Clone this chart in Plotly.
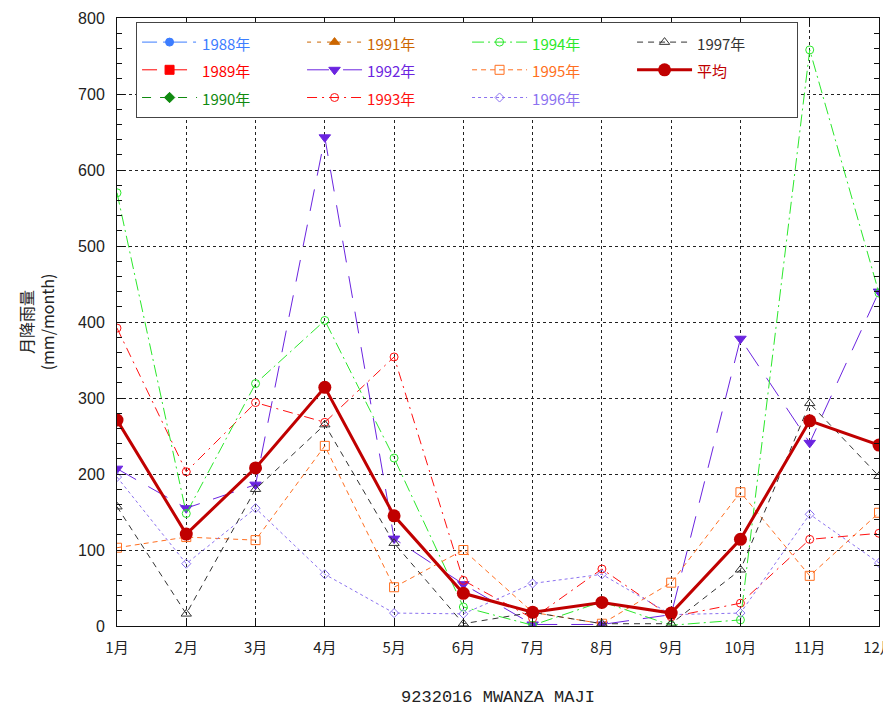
import plotly.graph_objects as go

months = ["1月", "2月", "3月", "4月", "5月", "6月", "7月", "8月", "9月", "10月", "11月", "12月"]

r1988 = [None] * 12
r1989 = [None] * 12
r1990 = [None] * 12
r1991 = [None] * 12
r1992 = [207, 155, 186, 643, 115, 55, 2, 2, 15, 378, 241, 440]
r1993 = [392, 203, 294, 268, 354, 60, 10, 75, 12, 30, 114, 122]
r1994 = [570, 148, 319, 402, 221, 25, 1, 32, 1, 8, 758, 438]
r1995 = [103, 117, 113, 237, 51, 100, 18, 3, 57, 176, 66, 149]
r1996 = [196, 82, 155, 68, 17, 16, 56, 68, 15, 17, 147, 83]
r1997 = [157, 16, 180, 265, 109, 3, 18, 3, 3, 74, 293, 197]
avg = [271, 121, 208, 314, 145, 43, 18, 31, 17, 114, 270, 238]

yticks = [0, 100, 200, 300, 400, 500, 600, 700, 800]

series = [
    ("1988年", r1988, "#3C7DFF", "longdashdot", "circle", 8),
    ("1989年", r1989, "#FF0000", "longdash", "square", 9),
    ("1990年", r1990, "#108A10", "dash", "diamond", 8),
    ("1991年", r1991, "#CC6600", "4px,6px", "triangle-up", 9),
    ("1992年", r1992, "#6B24E0", "22px,14px", "triangle-down", 10),
    ("1993年", r1993, "#FF1010", "10px,5px,2px,5px", "circle-open", 8),
    ("1994年", r1994, "#2BE82B", "12px,4px,2px,4px", "circle-open", 8),
    ("1995年", r1995, "#FF6F20", "5px,4px", "square-open", 9),
    ("1996年", r1996, "#8C72F0", "3px,3px", "diamond-open", 7),
    ("1997年", r1997, "#333333", "6px,5px", "triangle-up-open", 9),
]
rank_order = ["1988年", "1991年", "1994年", "1997年",
              "1989年", "1992年", "1995年", "平均",
              "1990年", "1993年", "1996年"]


def label(text, col):
    return f'<span style="color:{col};font-size:15px">{text}</span>'


fig = go.Figure()
for name, vals, col, dash, sym, ms in series:
    fig.add_trace(go.Scatter(
        x=months, y=vals, mode="lines+markers",
        name=label(name, col),
        line=dict(color=col, width=1, dash=dash),
        marker=dict(symbol=sym, size=ms, color=col, line=dict(color=col, width=1)),
        legendrank=rank_order.index(name) + 1,
        connectgaps=False,
    ))

fig.add_trace(go.Scatter(
    x=months, y=avg, mode="lines+markers",
    name=label("平均", "#C00000"),
    line=dict(color="#C00000", width=3),
    marker=dict(symbol="circle", size=13, color="#C00000"),
    legendrank=rank_order.index("平均") + 1,
))

axis_font = dict(family="Liberation Sans, Noto Sans CJK JP", size=16, color="#222")

# the page places the figure at an 8px offset, so the figure is sized to fit the window
fig.update_layout(
    width=883, height=704,
    margin=dict(l=109, r=12, t=10, b=86),
    plot_bgcolor="white", paper_bgcolor="white",
    font=dict(family="Noto Sans CJK JP", size=15, color="#222"),
    showlegend=True,
    legend=dict(
        orientation="h", x=0.025, y=0.993, xanchor="left", yanchor="top",
        bgcolor="white", bordercolor="#444", borderwidth=1,
        entrywidth=95, entrywidthmode="pixels", itemwidth=55,
        font=dict(family="Noto Sans CJK JP", size=19),
        traceorder="normal",
    ),
    xaxis=dict(
        type="category", range=[0, 11], automargin=False,
        showline=True, linecolor="#111", linewidth=1, mirror="ticks",
        ticks="inside", ticklen=8, tickcolor="#111",
        showgrid=True, gridcolor="#222", griddash="3px,3px", gridwidth=1,
        tickfont=dict(family="Noto Sans CJK JP", size=15, color="#222"),
        ticklabelstandoff=8,
        title=dict(text="9232016 MWANZA MAJI",
                   font=dict(family="Liberation Mono", size=17, color="#222"),
                   standoff=34),
        zeroline=False,
    ),
    yaxis=dict(
        range=[0, 800], tickvals=yticks, automargin=False,
        showline=True, linecolor="#111", linewidth=1, mirror="ticks",
        ticks="inside", ticklen=8, tickcolor="#111",
        minor=dict(dtick=20, ticks="inside", ticklen=5, tickcolor="#111", showgrid=False),
        showgrid=True, gridcolor="#222", griddash="3px,3px", gridwidth=1,
        tickfont=axis_font, ticklabelstandoff=8,
        title=dict(text="月降雨量<br>(mm/month)",
                   font=dict(family="Noto Sans CJK JP", size=16, color="#222"),
                   standoff=19),
        zeroline=False,
    ),
)

fig.write_html("out.html")
